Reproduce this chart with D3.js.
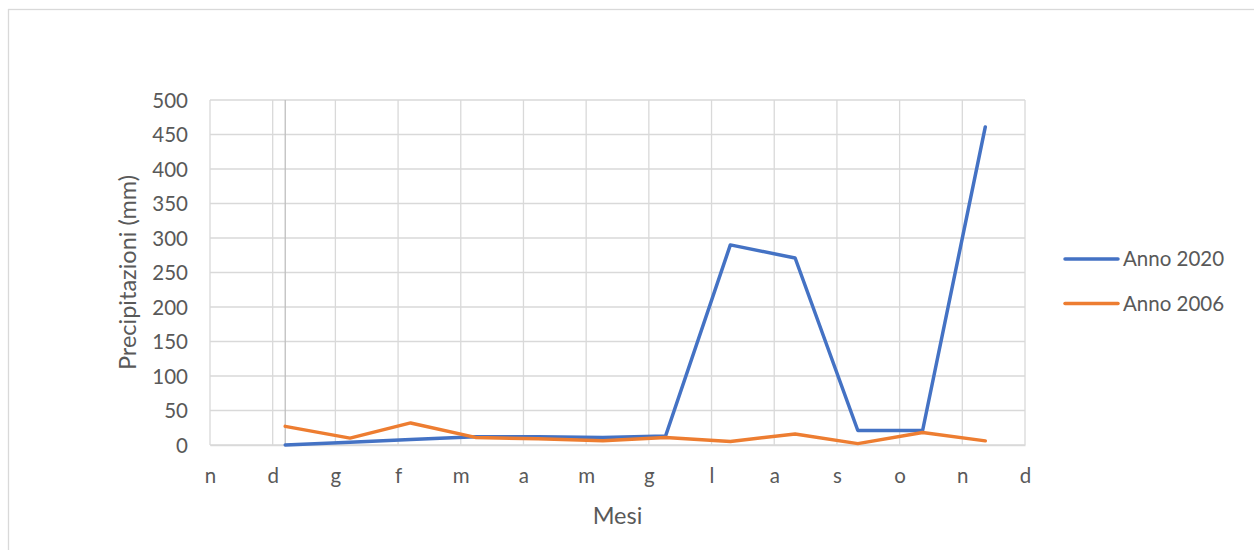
<!DOCTYPE html>
<html lang="it">
<head>
<meta charset="utf-8">
<title>Precipitazioni mensili</title>
<script src="https://cdn.jsdelivr.net/npm/d3@7"></script>
<style>
  html, body { margin: 0; padding: 0; background: #fff; }
  svg { display: block; }
  text { font-family: Lato, "Open Sans", sans-serif; fill: #595959; }
</style>
</head>
<body>
<svg id="chart" width="1254" height="550"></svg>
<script>
// Observation dates (first of each month)
const dates = ["2020-01-01", "2020-02-01", "2020-03-01", "2020-04-01", "2020-05-01", "2020-06-01",
               "2020-07-01", "2020-08-01", "2020-09-01", "2020-10-01", "2020-11-01", "2020-12-01"];
// Monthly rainfall in mm
const anno2020 = [0, 4, 8, 12, 12, 11, 13, 290, 271, 21, 21, 461];
const anno2006 = [27, 10, 32, 11, 9, 6, 11, 5, 16, 2, 18, 6];
const seriesNames = ["Anno 2020", "Anno 2006"];
const seriesColors = ["#4472C4", "#ED7D31"];
// Axis settings
const yTicks = [0, 50, 100, 150, 200, 250, 300, 350, 400, 450, 500];
const monthInitials = ["g", "f", "m", "a", "m", "g", "l", "a", "s", "o", "n", "d"];
const axisStart = "2019-11-26";
const axisEnd = "2020-12-20";
const tickStepDays = 30;

const parse = d3.utcParse("%Y-%m-%d");
const svg = d3.select("#chart");

// outer chart frame
svg.append("rect")
  .attr("x", 8.5).attr("y", 9.5)
  .attr("width", 1300).attr("height", 600)
  .attr("fill", "none").attr("stroke", "#d9d9d9").attr("stroke-width", 1.3);

const plot = { left: 210, right: 1025, top: 100, bottom: 445 };

const x = d3.scaleUtc()
  .domain([parse(axisStart), parse(axisEnd)])
  .range([plot.left, plot.right]);
const y = d3.scaleLinear()
  .domain([0, 500])
  .range([plot.bottom, plot.top]);

const start = parse(axisStart);
const nTicks = Math.round(d3.utcDay.count(start, parse(axisEnd)) / tickStepDays) + 1;
const xTicks = d3.range(nTicks).map(i => d3.utcDay.offset(start, i * tickStepDays));

// gridlines
const grid = svg.append("g").attr("stroke", "#d9d9d9").attr("stroke-width", 1.3);
grid.selectAll("line.h").data(yTicks).join("line")
  .attr("x1", plot.left).attr("x2", plot.right)
  .attr("y1", d => y(d)).attr("y2", d => y(d));
grid.selectAll("line.v").data(xTicks).join("line")
  .attr("x1", d => x(d)).attr("x2", d => x(d))
  .attr("y1", plot.top).attr("y2", plot.bottom);

// vertical axis line crossing at the first observation
svg.append("line")
  .attr("x1", x(parse(dates[0]))).attr("x2", x(parse(dates[0])))
  .attr("y1", plot.top).attr("y2", plot.bottom)
  .attr("stroke", "#bfbfbf").attr("stroke-width", 1.3);

// y axis labels
const yAxis = d3.axisLeft(y).tickValues(yTicks).tickSize(0).tickPadding(22);
const gy = svg.append("g").attr("transform", `translate(${plot.left},0)`).call(yAxis);
gy.select(".domain").remove();
gy.selectAll("text")
  .style("font-size", "20.5px").attr("fill", "#595959")
  .attr("dy", "0.36em");

// x axis labels: initial of the month
const xAxis = d3.axisBottom(x).tickValues(xTicks).tickSize(0).tickPadding(0)
  .tickFormat(d => monthInitials[d.getUTCMonth()]);
const gx = svg.append("g").attr("transform", `translate(0,${plot.bottom})`).call(xAxis);
gx.select(".domain").attr("stroke", "#d9d9d9").attr("stroke-width", 1.3);
gx.selectAll("text")
  .style("font-size", "20.5px").attr("fill", "#595959")
  .attr("dy", 0).attr("y", 38);

// axis titles
svg.append("text")
  .attr("x", (plot.left + plot.right) / 2).attr("y", 524)
  .attr("text-anchor", "middle").style("font-size", "23.5px")
  .text("Mesi");
svg.append("text")
  .attr("transform", `translate(136,${(plot.top + plot.bottom) / 2}) rotate(-90)`)
  .attr("text-anchor", "middle").style("font-size", "23.5px")
  .text("Precipitazioni (mm)");

// series lines
const series = [anno2020, anno2006];
const line = d3.line()
  .x((d, i) => x(parse(dates[i])))
  .y(d => y(d));
svg.append("g").selectAll("path").data(series).join("path")
  .attr("d", d => line(d))
  .attr("fill", "none")
  .attr("stroke", (d, i) => seriesColors[i])
  .attr("stroke-width", 3.5)
  .attr("stroke-linejoin", "round")
  .attr("stroke-linecap", "round");

// legend
const legend = svg.append("g");
const lg = legend.selectAll("g").data(seriesNames).join("g")
  .attr("transform", (d, i) => `translate(1065,${259 + i * 44.5})`);
lg.append("line")
  .attr("x1", 0).attr("x2", 53).attr("y1", 0).attr("y2", 0)
  .attr("stroke", (d, i) => seriesColors[i]).attr("stroke-width", 3.5)
  .attr("stroke-linecap", "round");
lg.append("text")
  .attr("x", 58).attr("y", 7.4)
  .style("font-size", "20.5px")
  .text(d => d);
</script>
</body>
</html>
